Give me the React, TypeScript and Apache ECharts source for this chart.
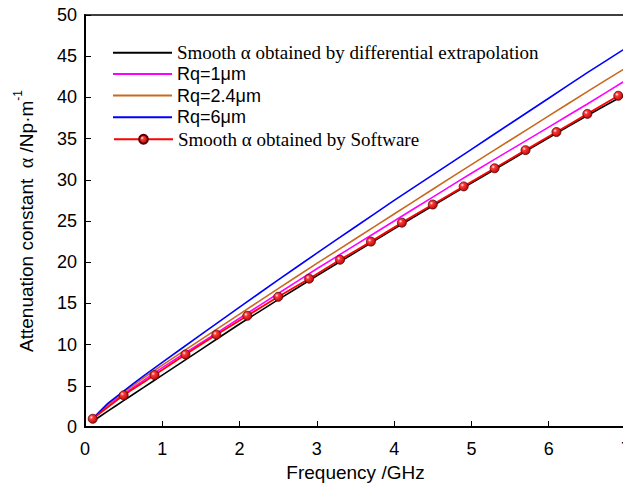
import React, { useEffect, useRef } from "react";
import * as echarts from "echarts";

// Frequency grid (GHz) for the continuous curves
const freq = [0.1, 0.3, 0.5, 0.75, 1, 1.5, 2, 2.5, 3, 3.5, 4, 4.5, 5, 5.5, 6, 6.5, 7];
// Attenuation constant (Np/m)
const extrapolation = [0.7, 1.95, 3.2, 4.75, 6.3, 9.4, 12.5, 15.45, 18.35, 21.2, 24.05, 26.85, 29.6, 32.35, 35.1, 37.8, 40.4];
const rq1 = [1.0, 2.7, 4.0, 5.6, 7.2, 10.2, 13.2, 16.2, 19.2, 22.1, 25.0, 27.9, 30.8, 33.6, 36.4, 39.2, 42.1];
const rq24 = [1.0, 2.8, 4.2, 5.9, 7.5, 10.6, 13.7, 16.8, 19.85, 22.85, 25.85, 28.85, 31.85, 34.8, 37.75, 40.7, 43.6];
const rq6 = [1.0, 2.9, 4.35, 6.15, 7.85, 11.2, 14.55, 17.85, 21.1, 24.3, 27.5, 30.6, 33.7, 36.8, 39.9, 43.0, 46.0];

// Software points
const swFreq = [0.1, 0.5, 0.9, 1.3, 1.7, 2.1, 2.5, 2.9, 3.3, 3.7, 4.1, 4.5, 4.9, 5.3, 5.7, 6.1, 6.5, 6.9];
const software = [1.0, 3.85, 6.3, 8.8, 11.2, 13.5, 15.8, 18.0, 20.3, 22.5, 24.8, 27.0, 29.2, 31.4, 33.6, 35.8, 38.0, 40.2];

const names = [
  "Smooth \u03b1 obtained by differential extrapolation",
  "Rq=1\u03bcm",
  "Rq=2.4\u03bcm",
  "Rq=6\u03bcm",
  "Smooth \u03b1 obtained by Software",
];
const xTicks = { min: 0, max: 7, interval: 1 };
const yTicks = { min: 0, max: 50, interval: 5 };

const pairs = (xs: number[], ys: number[]) => xs.map((x, i) => [x, ys[i]]);

export default function App() {
  const ref = useRef<HTMLDivElement>(null);
  useEffect(() => {
    if (!ref.current) return;
    const chart = echarts.init(ref.current, null, { renderer: "svg" });
    const sans = "Liberation Sans, Arial, sans-serif";
    const serif = "Liberation Serif, Times New Roman, serif";
    const rows = [52.7, 74.4, 96.0, 117.7, 139.3];
    const legendFonts = [serif, sans, sans, sans, serif];
    const legendSizes = [19, 18, 18, 18, 19];
    const sphere = new echarts.graphic.RadialGradient(0.35, 0.35, 0.75, [
      { offset: 0, color: "#ffffff" },
      { offset: 0.25, color: "#ff3a3a" },
      { offset: 1, color: "#b00000" },
    ]);
    const lineS = (name: string, xs: number[], ys: number[], color: string) => ({
      name,
      type: "line",
      data: pairs(xs, ys),
      smooth: 0.15,
      symbol: "none",
      lineStyle: { color, width: 1.6 },
      itemStyle: { color },
    });
    chart.setOption({
      animation: false,
      backgroundColor: "#fff",
      grid: {
        left: 85,
        top: 15,
        right: 14,
        bottom: 55,
        show: true,
        borderColor: "#000",
        borderWidth: 1.5,
      },
      legend: names.map((n, i) => ({
        data: [n],
        left: 113,
        top: rows[i] - 9.5,
        padding: 0,
        itemWidth: 59,
        itemHeight: i === 4 ? 11 : 2,
        icon: i === 4 ? undefined : "rect",
        textStyle: { fontFamily: legendFonts[i], fontSize: legendSizes[i], color: "#000" },
        selectedMode: false,
      })),
      xAxis: {
        type: "value",
        min: xTicks.min,
        max: xTicks.max,
        interval: xTicks.interval,
        name: "Frequency /GHz",
        nameLocation: "middle",
        nameGap: 36,
        nameTextStyle: { fontFamily: sans, fontSize: 19, color: "#000" },
        axisLine: { show: true, lineStyle: { color: "#000", width: 2 } },
        axisTick: { show: true, inside: true, length: 6, lineStyle: { color: "#000", width: 1 } },
        axisLabel: { margin: 13, fontFamily: sans, fontSize: 18, color: "#000" },
        splitLine: { show: false },
      },
      yAxis: {
        type: "value",
        min: yTicks.min,
        max: yTicks.max,
        interval: yTicks.interval,
        name: "{a|Attenuation constant  }{g|\u03b1}{a| /Np\u00b7m}{s|-1}",
        nameLocation: "middle",
        nameGap: 49,
        nameTextStyle: {
          color: "#000",
          rich: {
            a: { fontFamily: sans, fontSize: 19, color: "#000", lineHeight: 24, verticalAlign: "bottom" },
            g: { fontFamily: serif, fontSize: 20, color: "#000", lineHeight: 24, verticalAlign: "bottom" },
            s: { fontFamily: sans, fontSize: 12, color: "#000", lineHeight: 24, verticalAlign: "top" },
          },
        },
        axisLine: { show: true, lineStyle: { color: "#000", width: 2 } },
        axisTick: { show: true, inside: true, length: 6, lineStyle: { color: "#000", width: 1 } },
        axisLabel: { margin: 8, fontFamily: sans, fontSize: 18, color: "#000" },
        splitLine: { show: false },
      },
      series: [
        lineS(names[0], freq, extrapolation, "#000000"),
        lineS(names[1], freq, rq1, "#ff00ff"),
        lineS(names[2], freq, rq24, "#c8691e"),
        lineS(names[3], freq, rq6, "#0000ff"),
        {
          name: names[4],
          type: "line",
          data: pairs(swFreq, software),
          smooth: 0.15,
          symbol: "circle",
          symbolSize: 9,
          showAllSymbol: true,
          lineStyle: { color: "#ff0000", width: 1.8 },
          itemStyle: { color: sphere, borderColor: "#5a0000", borderWidth: 0.8 },
        },
      ],
    });
    return () => chart.dispose();
  }, []);
  return (
    <div style={{ position: "absolute", left: 0, top: 0, width: 623, height: 487, overflow: "hidden" }}>
      <div ref={ref} style={{ width: 640, height: 487 }} />
    </div>
  );
}
